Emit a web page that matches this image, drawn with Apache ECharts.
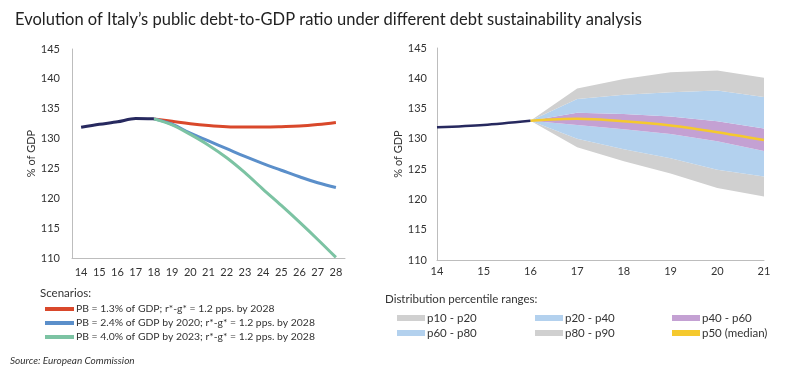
<!DOCTYPE html>
<html><head><meta charset="utf-8">
<script src="https://cdn.jsdelivr.net/npm/echarts@6/dist/echarts.min.js"></script>
<style>html,body{margin:0;padding:0;background:#fff}#c{width:800px;height:378px}</style>
</head><body><div id="c"></div>
<script>
// ---- Left chart data ----
const yearsL = ['14','15','16','17','18','19','20','21','22','23','24','25','26','27','28'];
const histL = [131.9,132.4,132.8,133.35,133.3,null,null,null,null,null,null,null,null,null,null];
const scen1 = [null,null,null,null,133.3,132.9,132.5,132.2,132.0,131.95,131.95,132.0,132.1,132.35,132.7];
const scen2 = [null,null,null,null,133.3,132.4,130.9,129.6,128.3,127.0,125.8,124.7,123.6,122.6,121.8];
const scen3 = [null,null,null,null,133.3,132.3,130.7,128.9,126.8,124.3,121.5,118.8,116.0,113.1,110.1];
const scenNames = ['PB = 1.3% of GDP; r*-g* = 1.2 pps. by 2028','PB = 2.4% of GDP by 2020; r*-g* = 1.2 pps. by 2028','PB = 4.0% of GDP by 2023; r*-g* = 1.2 pps. by 2028'];
// ---- Right chart data ----
const yearsR = ['14','15','16','17','18','19','20','21'];
const histR = [131.9,132.3,133.0,null,null,null,null,null];
const p10 = [null,null,133.0,128.6,126.3,124.3,121.9,120.5];
const p20 = [null,null,133.0,130.0,128.3,126.8,124.9,123.8];
const p40 = [null,null,133.0,132.3,131.6,130.8,129.6,128.0];
const p50 = [null,null,133.0,133.3,132.9,132.2,131.1,129.8];
const p60 = [null,null,133.0,134.3,134.1,133.7,132.9,131.7];
const p80 = [null,null,133.0,136.6,137.3,137.7,138.0,136.9];
const p90 = [null,null,133.0,138.3,139.9,141.0,141.3,140.1];
const bandNames = ['p10 - p20','p20 - p40','p40 - p60','p60 - p80','p80 - p90','p50 (median)'];

const diff = (a,b) => a.map((v,i)=> (v==null||b[i]==null)?'-':+(a[i]-b[i]).toFixed(2));
const nz = a => a.map(v => v==null?'-':v);

const FONT = 'Lato';
const txt = '#333';
const axisCommon = {
  axisLine:{show:true,lineStyle:{color:'#bdbdbd',width:1}},
  axisTick:{show:false},
  splitLine:{show:false},
  axisLabel:{color:txt,fontSize:11,fontFamily:FONT}
};
const C = {navy:'#27295f',red:'#d9482b',blue:'#5b8fca',green:'#7cc3a3',gray:'#d0d0d0',lblue:'#b3d1ee',purple:'#c4a1d3',yellow:'#f5c92e'};

const chart = echarts.init(document.getElementById('c'),null,{renderer:'canvas'});
chart.setOption({
  animation:false,
  textStyle:{fontFamily:FONT},
  title:{text:"Evolution of Italy’s public debt-to-GDP ratio under different debt sustainability analysis",left:10,top:6,
    textStyle:{fontSize:16.5,fontWeight:'normal',color:'#222',fontFamily:FONT}},
  graphic:[
    {type:'text',left:40,top:287,style:{text:'Scenarios:',fontSize:11.5,fill:txt,fontFamily:FONT}},
    {type:'text',left:385,top:293,style:{text:'Distribution percentile ranges:',fontSize:11.5,fill:txt,fontFamily:FONT}},
    {type:'text',left:10,top:356,style:{text:'Source: European Commission',fontSize:10,fontStyle:'italic',fill:txt,fontFamily:FONT}}
  ],
  legend:[
    {orient:'vertical',left:40,top:299,itemWidth:29,itemHeight:4,itemGap:4,icon:'rect',data:scenNames,
      textStyle:{fontSize:10.4,color:txt,fontFamily:FONT,padding:[0,0,0,-3]}},
    {orient:'vertical',left:392,top:307,itemWidth:28,itemHeight:6,itemGap:3,icon:'rect',data:[bandNames[0],bandNames[3]],
      textStyle:{fontSize:11.5,color:txt,fontFamily:FONT,padding:[0,0,0,-3]}},
    {orient:'vertical',left:530,top:307,itemWidth:28,itemHeight:6,itemGap:3,icon:'rect',data:[bandNames[1],bandNames[4]],
      textStyle:{fontSize:11.5,color:txt,fontFamily:FONT,padding:[0,0,0,-3]}},
    {orient:'vertical',left:667,top:307,itemWidth:28,itemHeight:6,itemGap:3,icon:'rect',data:[bandNames[2],bandNames[5]],
      textStyle:{fontSize:11.5,color:txt,fontFamily:FONT,padding:[0,0,0,-3]}}
  ],
  grid:[
    {left:72,top:49,width:273,height:209},
    {left:437,top:48,width:327,height:212}
  ],
  xAxis:[
    Object.assign({},axisCommon,{type:'category',gridIndex:0,data:yearsL,boundaryGap:true,axisLabel:Object.assign({},axisCommon.axisLabel,{margin:9,interval:0})}),
    Object.assign({},axisCommon,{type:'category',gridIndex:1,data:yearsR,boundaryGap:false,axisLabel:Object.assign({},axisCommon.axisLabel,{margin:6,interval:0})})
  ],
  yAxis:[
    Object.assign({},axisCommon,{type:'value',gridIndex:0,min:110,max:145,interval:5,name:'% of GDP',nameLocation:'middle',nameGap:34,nameRotate:90,
      nameTextStyle:{color:txt,fontSize:11,fontFamily:FONT},axisLabel:Object.assign({},axisCommon.axisLabel,{margin:12})}),
    Object.assign({},axisCommon,{type:'value',gridIndex:1,min:110,max:145,interval:5,name:'% of GDP',nameLocation:'middle',nameGap:33,nameRotate:90,
      nameTextStyle:{color:txt,fontSize:11,fontFamily:FONT},axisLabel:Object.assign({},axisCommon.axisLabel,{margin:10})})
  ],
  series:[
    {name:scenNames[0],type:'line',xAxisIndex:0,yAxisIndex:0,data:nz(scen1),smooth:0.4,symbol:'none',color:C.red,lineStyle:{width:3,color:C.red}},
    {name:scenNames[1],type:'line',xAxisIndex:0,yAxisIndex:0,data:nz(scen2),smooth:0.4,symbol:'none',color:C.blue,lineStyle:{width:3,color:C.blue}},
    {name:scenNames[2],type:'line',xAxisIndex:0,yAxisIndex:0,data:nz(scen3),smooth:0.3,symbol:'none',color:C.green,lineStyle:{width:3,color:C.green}},
    {name:'hist',type:'line',xAxisIndex:0,yAxisIndex:0,data:nz(histL),smooth:0.3,symbol:'none',color:C.navy,lineStyle:{width:3,color:C.navy}},

    {name:'base',type:'line',xAxisIndex:1,yAxisIndex:1,stack:'fan',data:nz(p10),symbol:'none',lineStyle:{width:0,opacity:0},silent:true},
    {name:bandNames[0],type:'line',xAxisIndex:1,yAxisIndex:1,stack:'fan',data:diff(p20,p10),symbol:'none',color:C.gray,lineStyle:{width:0,opacity:0},areaStyle:{color:C.gray,opacity:1}},
    {name:bandNames[1],type:'line',xAxisIndex:1,yAxisIndex:1,stack:'fan',data:diff(p40,p20),symbol:'none',color:C.lblue,lineStyle:{width:0,opacity:0},areaStyle:{color:C.lblue,opacity:1}},
    {name:bandNames[2],type:'line',xAxisIndex:1,yAxisIndex:1,stack:'fan',data:diff(p60,p40),symbol:'none',color:C.purple,lineStyle:{width:0,opacity:0},areaStyle:{color:C.purple,opacity:1}},
    {name:bandNames[3],type:'line',xAxisIndex:1,yAxisIndex:1,stack:'fan',data:diff(p80,p60),symbol:'none',color:C.lblue,lineStyle:{width:0,opacity:0},areaStyle:{color:C.lblue,opacity:1}},
    {name:bandNames[4],type:'line',xAxisIndex:1,yAxisIndex:1,stack:'fan',data:diff(p90,p80),symbol:'none',color:C.gray,lineStyle:{width:0,opacity:0},areaStyle:{color:C.gray,opacity:1}},
    {name:bandNames[5],type:'line',xAxisIndex:1,yAxisIndex:1,data:nz(p50),smooth:0.3,symbol:'none',color:C.yellow,lineStyle:{width:2.5,color:C.yellow}},
    {name:'histR',type:'line',xAxisIndex:1,yAxisIndex:1,data:nz(histR),smooth:0.3,symbol:'none',color:C.navy,lineStyle:{width:2.5,color:C.navy}}
  ]
});
</script></body></html>
